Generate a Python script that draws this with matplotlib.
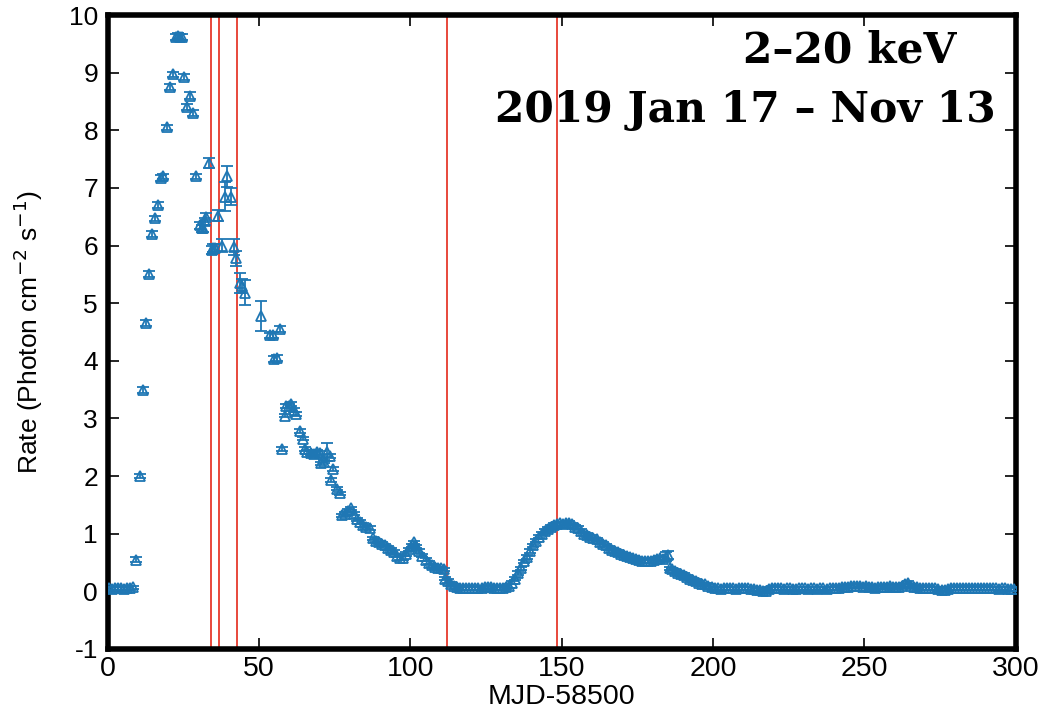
import matplotlib
matplotlib.use("Agg")
import matplotlib.pyplot as plt
from matplotlib import font_manager

# ---------------- data ----------------
# Segment 1: outburst rise and main decay (days = MJD-58500)
day_a = [0.5, 1.5, 2.5, 3.5, 4.5, 5.5, 6.5, 7.5, 8.5, 9.5, 10.5, 11.5, 12.5, 13.5,
         14.5, 15.5, 16.5, 17.5, 18.3, 19.5, 20.5, 21.5, 22.5, 23.2, 23.8, 24.5,
         25.3, 26.3, 27.3, 28.3, 29.3, 30.5, 31.0, 31.5, 32.2, 32.6, 33.4, 34.3,
         34.8, 35.3, 36.4, 37.6, 38.6, 39.5, 40.6, 41.6, 42.5, 43.6, 44.3, 45.5,
         50.5, 53.5, 54.5, 55.0, 56.0, 56.8]
rate_a = [0.05, 0.04, 0.05, 0.06, 0.05, 0.04, 0.05, 0.06, 0.07, 0.55, 2.00, 3.50, 4.65, 5.50,
          6.20, 6.47, 6.70, 7.17, 7.20, 8.05, 8.75, 8.97, 9.62, 9.63, 9.62, 9.62,
          8.93, 8.40, 8.60, 8.30, 7.20, 6.35, 6.30, 6.30, 6.42, 6.50, 7.43, 5.93,
          5.95, 5.95, 6.52, 6.00, 6.85, 7.20, 6.85, 5.98, 5.78, 5.35, 5.30, 5.18,
          4.78, 4.44, 4.45, 4.03, 4.05, 4.55]
err_a = [0.03, 0.03, 0.03, 0.03, 0.03, 0.03, 0.03, 0.03, 0.03, 0.04, 0.04, 0.05, 0.05, 0.05,
         0.05, 0.05, 0.05, 0.05, 0.05, 0.05, 0.05, 0.05, 0.05, 0.05, 0.05, 0.05,
         0.05, 0.05, 0.06, 0.06, 0.05, 0.06, 0.06, 0.06, 0.06, 0.06, 0.09, 0.07,
         0.07, 0.07, 0.10, 0.12, 0.25, 0.18, 0.15, 0.14, 0.13, 0.17, 0.12, 0.22,
         0.26, 0.05, 0.05, 0.05, 0.05, 0.05]

# Segment 2: late decay, re-brightening and quiescence
day_b = [57.6, 58.5, 59.0, 60.0, 60.7, 61.5, 62.3, 63.4, 64.5, 65.1, 66.0, 67.0, 68.0,
         69.0, 70.0, 70.6, 71.5, 72.5, 73.3, 73.8, 74.5, 75.6, 76.6, 77.3, 78.3, 79.3,
         80.5, 81.5, 82.5, 83.5, 84.5, 85.5, 86.6, 87.6, 88.5, 89.5, 90.5, 91.5, 92.5,
         93.5, 94.5, 95.5, 96.5, 97.5, 98.5, 99.5, 100.5, 101.3, 102.0, 103.0, 104.0,
         105.0, 106.0, 107.0, 108.0, 109.0, 110.0, 111.0, 111.5, 112.5, 113.5, 114.5,
         115.5, 116.5, 117.5, 118.5, 119.5, 120.5, 121.5, 122.5, 123.5, 124.5, 125.5,
         126.5, 127.5, 128.5, 129.5, 130.5, 131.5, 132.5, 133.5, 134.5, 135.5, 136.5,
         137.5, 138.5, 139.5, 140.5, 141.5, 142.5, 143.5, 144.5, 145.5, 146.5, 147.5,
         148.5, 149.5, 150.5, 151.5, 152.5, 153.5, 154.5, 155.5, 156.5, 157.5, 158.5,
         159.5, 160.5, 161.5, 162.5, 163.5, 164.5, 165.5, 166.5, 167.5, 168.5, 169.5,
         170.5, 171.5, 172.5, 173.5, 174.5, 175.5, 176.5, 177.5, 178.5, 179.5, 180.5,
         181.5, 182.5, 183.5, 184.5, 185.2, 185.8, 186.5, 187.5, 188.5, 189.5, 190.5,
         191.5, 192.5, 193.5, 194.5, 195.5, 196.5, 197.5, 198.5, 199.5]
rate_b = [2.47, 3.05, 3.22, 3.22, 3.25, 3.15, 3.08, 2.78, 2.65, 2.47, 2.42, 2.40, 2.38,
          2.42, 2.40, 2.22, 2.25, 2.42, 2.35, 1.93, 2.12, 1.78, 1.70, 1.32, 1.35, 1.40,
          1.44, 1.35, 1.25, 1.20, 1.15, 1.12, 1.10, 0.92, 0.88, 0.85, 0.83, 0.80, 0.75,
          0.72, 0.68, 0.62, 0.58, 0.58, 0.65, 0.73, 0.80, 0.85, 0.78, 0.70, 0.62,
          0.55, 0.50, 0.45, 0.42, 0.40, 0.40, 0.38, 0.22, 0.18, 0.13, 0.10,
          0.07, 0.06, 0.05, 0.06, 0.05, 0.06, 0.05, 0.05, 0.06, 0.07, 0.08,
          0.07, 0.06, 0.05, 0.06, 0.05, 0.07, 0.09, 0.15, 0.22, 0.32, 0.40,
          0.52, 0.60, 0.70, 0.80, 0.88, 0.95, 1.00, 1.05, 1.08, 1.12, 1.15,
          1.17, 1.18, 1.17, 1.19, 1.19, 1.16, 1.12, 1.10, 1.05, 1.00, 0.98,
          0.95, 0.92, 0.90, 0.85, 0.82, 0.80, 0.75, 0.72, 0.70, 0.68, 0.65,
          0.63, 0.61, 0.59, 0.58, 0.56, 0.55, 0.53, 0.52, 0.52, 0.53, 0.55,
          0.57, 0.58, 0.56, 0.60, 0.63, 0.40, 0.38, 0.35, 0.32, 0.30, 0.28,
          0.25, 0.22, 0.20, 0.18, 0.15, 0.12, 0.12, 0.10, 0.07]
err_b_big = {72.5: 0.15, 184.5: 0.08, 185.2: 0.07}

day_c = [200.5 + i for i in range(100)]
rate_c = [0.05, 0.05, 0.04, 0.05, 0.06, 0.05, 0.05, 0.04, 0.05, 0.06,
          0.05, 0.05, 0.04, 0.04, 0.03, 0.02, 0.01, 0.01, 0.04, 0.06,
          0.06, 0.05, 0.05, 0.04, 0.05, 0.05, 0.04, 0.04, 0.05, 0.05,
          0.05, 0.04, 0.05, 0.05, 0.04, 0.05, 0.05, 0.04, 0.05, 0.05,
          0.06, 0.06, 0.07, 0.08, 0.08, 0.09, 0.10, 0.09, 0.10, 0.08,
          0.09, 0.08, 0.07, 0.06, 0.07, 0.08, 0.07, 0.08, 0.09, 0.08,
          0.07, 0.08, 0.10, 0.12, 0.15, 0.10, 0.08, 0.07, 0.06, 0.06,
          0.05, 0.06, 0.05, 0.05, 0.04, 0.03, 0.02, 0.04, 0.05, 0.06,
          0.05, 0.05, 0.06, 0.05, 0.06, 0.05, 0.05, 0.06, 0.05, 0.05,
          0.06, 0.05, 0.05, 0.05, 0.04, 0.05, 0.05, 0.04, 0.04, 0.04]
err_small = 0.03

# Red vertical marker lines (MJD-58500)
vlines_days = [34.0, 36.8, 42.6, 112.0, 148.3]

x_ticks = [0, 50, 100, 150, 200, 250, 300]
y_ticks = [-1, 0, 1, 2, 3, 4, 5, 6, 7, 8, 9, 10]

# ---------------- figure ----------------
blue = "#1f77b4"
red = "#e8473b"

def has_font(name):
    try:
        font_manager.findfont(font_manager.FontProperties(family=name),
                              fallback_to_default=False)
        return True
    except Exception:
        return False

narrow = "Liberation Sans Narrow" if has_font("Liberation Sans Narrow") else "Liberation Sans"

fig = plt.figure(figsize=(10.46, 7.16), dpi=100)
ax = fig.add_axes([0.103, 0.0936, 0.868, 0.8854])

for d in vlines_days:
    ax.axvline(d, color=red, lw=1.4, zorder=1)

err_b = [err_b_big.get(d, 0.03) for d in day_b]
err_c = [err_small for _ in day_c]

for xs, ys, es in [(day_a, rate_a, err_a), (day_b, rate_b, err_b), (day_c, rate_c, err_c)]:
    ax.errorbar(xs, ys, yerr=es, fmt="^", ms=7, mfc="none", mec=blue, mew=1.3,
                ecolor=blue, elinewidth=1.3, capsize=4.5, capthick=1.3, zorder=3)

ax.set_xlim(0, 300)
ax.set_ylim(-1, 10)
ax.set_xticks(x_ticks)
ax.set_yticks(y_ticks)
ax.set_xticklabels([str(t) for t in x_ticks], fontfamily=narrow, fontsize=20.5)
ax.set_yticklabels([str(t) for t in y_ticks], fontfamily="Liberation Sans", fontsize=19)
ax.tick_params(direction="in", length=8, width=1.2, top=True, right=True, pad=7)
ax.tick_params(axis="x", pad=5)

for s in ax.spines.values():
    s.set_linewidth(4)

ax.set_xlabel("MJD-58500", fontfamily=narrow, fontsize=20.5)
ax.xaxis.set_label_coords(0.5, -0.056)
ax.set_ylabel("Rate (Photon cm$^{-2}$ s$^{-1}$)", fontfamily="Liberation Sans", fontsize=19)
ax.yaxis.set_label_coords(-0.069, 0.5)

fig.text(0.8126, 0.929, "2\u201320 keV", fontfamily="DejaVu Serif", fontweight="bold",
         fontsize=30.5, ha="center", va="center")
fig.text(0.713, 0.846, "2019 Jan 17 \u2013 Nov 13", fontfamily="DejaVu Serif",
         fontweight="bold", fontsize=30.5, ha="center", va="center")

fig.savefig("out.png", dpi=100)
